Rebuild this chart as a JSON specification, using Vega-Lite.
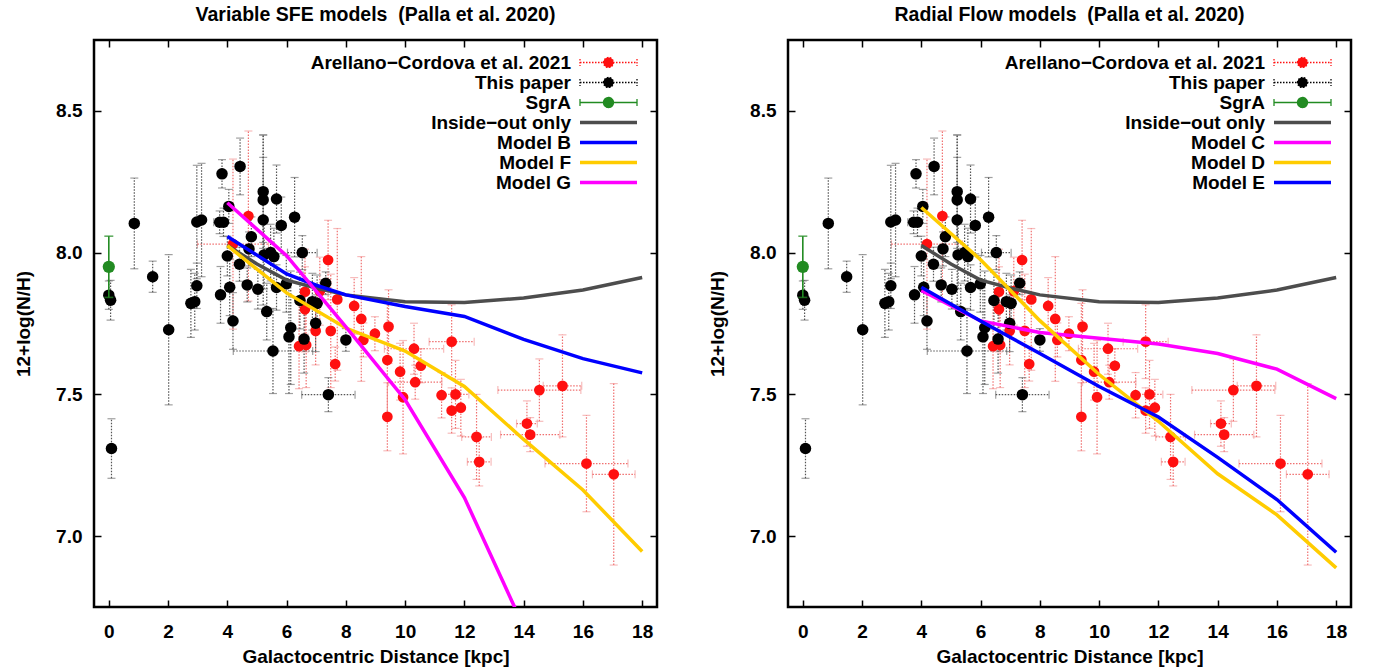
{
  "$schema": "https://vega.github.io/schema/vega-lite/v6.json",
  "padding": {"left": 13, "top": 3, "right": 5, "bottom": 0},
  "spacing": 48,
  "config": {
    "font": "Liberation Sans",
    "view": {"stroke": "#000", "strokeWidth": 2.5},
    "axis": {"grid": false, "domain": false, "labelFont": "Liberation Sans", "labelFontSize": 19, "labelFontWeight": "bold", "labelColor": "#000", "titleFont": "Liberation Sans", "titleFontSize": 19, "titleFontWeight": "bold", "titleColor": "#000", "tickColor": "#000", "tickWidth": 1.5, "tickSize": -7},
    "title": {"font": "Liberation Sans", "fontSize": 19.5, "fontWeight": "bold", "color": "#000", "offset": 14}
  },
  "resolve": {"scale": {"color": "independent", "size": "independent"}, "legend": {"color": "independent"}},
  "datasets": {
    "pts": [
      {"s":"A","x":4.71,"y":8.129,"ye":0.3,"xe":0},
      {"s":"A","x":4.19,"y":8.03,"ye":0.3,"xe":1.2},
      {"s":"A","x":7.4,"y":7.974,"ye":0.14,"xe":0},
      {"s":"A","x":6.62,"y":7.862,"ye":0.15,"xe":0},
      {"s":"A","x":7.12,"y":7.864,"ye":0.12,"xe":0},
      {"s":"A","x":7.71,"y":7.835,"ye":0.25,"xe":0},
      {"s":"A","x":6.62,"y":7.8,"ye":0.15,"xe":0},
      {"s":"A","x":8.28,"y":7.812,"ye":0.1,"xe":0},
      {"s":"A","x":8.52,"y":7.766,"ye":0.22,"xe":0},
      {"s":"A","x":9.44,"y":7.739,"ye":0.13,"xe":0},
      {"s":"A","x":8.98,"y":7.714,"ye":0.06,"xe":0},
      {"s":"A","x":8.59,"y":7.692,"ye":0.06,"xe":0},
      {"s":"A","x":7.49,"y":7.724,"ye":0.2,"xe":0},
      {"s":"A","x":6.98,"y":7.724,"ye":0.12,"xe":0},
      {"s":"A","x":7.64,"y":7.607,"ye":0.06,"xe":0},
      {"s":"A","x":6.42,"y":7.67,"ye":0.15,"xe":0},
      {"s":"A","x":6.66,"y":7.674,"ye":0.15,"xe":0},
      {"s":"A","x":9.4,"y":7.621,"ye":0.2,"xe":0},
      {"s":"A","x":10.3,"y":7.661,"ye":0.09,"xe":1.0},
      {"s":"A","x":9.83,"y":7.58,"ye":0.1,"xe":0},
      {"s":"A","x":10.53,"y":7.601,"ye":0.06,"xe":0},
      {"s":"A","x":10.34,"y":7.543,"ye":0.06,"xe":0.9},
      {"s":"A","x":11.57,"y":7.686,"ye":0.13,"xe":0.76},
      {"s":"A","x":9.93,"y":7.49,"ye":0.2,"xe":0},
      {"s":"A","x":11.23,"y":7.497,"ye":0.08,"xe":0},
      {"s":"A","x":11.7,"y":7.5,"ye":0.12,"xe":0.45},
      {"s":"A","x":11.57,"y":7.443,"ye":0.08,"xe":0},
      {"s":"A","x":11.88,"y":7.453,"ye":0.1,"xe":0},
      {"s":"A","x":9.4,"y":7.421,"ye":0.12,"xe":0},
      {"s":"A","x":12.41,"y":7.35,"ye":0.15,"xe":0.5},
      {"s":"A","x":12.5,"y":7.262,"ye":0.085,"xe":0.4},
      {"s":"A","x":14.11,"y":7.397,"ye":0.08,"xe":0.35},
      {"s":"A","x":14.22,"y":7.358,"ye":0.06,"xe":1.0},
      {"s":"A","x":14.53,"y":7.515,"ye":0.11,"xe":1.4},
      {"s":"A","x":15.31,"y":7.53,"ye":0.18,"xe":0.65},
      {"s":"A","x":16.12,"y":7.256,"ye":0.17,"xe":1.4},
      {"s":"A","x":17.04,"y":7.218,"ye":0.32,"xe":0.72},
      {"s":"T","x":0.0,"y":7.85,"ye":0.05,"xe":0},
      {"s":"T","x":0.06,"y":7.832,"ye":0.07,"xe":0},
      {"s":"T","x":0.09,"y":7.309,"ye":0.105,"xe":0},
      {"s":"T","x":0.86,"y":8.103,"ye":0.16,"xe":0},
      {"s":"T","x":1.48,"y":7.915,"ye":0.055,"xe":0},
      {"s":"T","x":2.02,"y":7.728,"ye":0.265,"xe":0},
      {"s":"T","x":2.77,"y":7.821,"ye":0.12,"xe":0},
      {"s":"T","x":2.9,"y":7.827,"ye":0.1,"xe":0},
      {"s":"T","x":2.97,"y":7.883,"ye":0.08,"xe":0},
      {"s":"T","x":2.97,"y":8.108,"ye":0.2,"xe":0},
      {"s":"T","x":3.13,"y":8.115,"ye":0.2,"xe":0},
      {"s":"T","x":3.82,"y":8.278,"ye":0.05,"xe":0},
      {"s":"T","x":3.74,"y":8.107,"ye":0.04,"xe":0.2},
      {"s":"T","x":3.87,"y":8.107,"ye":0.05,"xe":0},
      {"s":"T","x":3.77,"y":7.851,"ye":0.1,"xe":0},
      {"s":"T","x":4.0,"y":7.988,"ye":0.07,"xe":0},
      {"s":"T","x":4.05,"y":8.163,"ye":0.06,"xe":0},
      {"s":"T","x":4.08,"y":7.878,"ye":0.1,"xe":0},
      {"s":"T","x":4.19,"y":7.759,"ye":0.1,"xe":0},
      {"s":"T","x":4.41,"y":7.959,"ye":0.06,"xe":0},
      {"s":"T","x":4.43,"y":8.304,"ye":0.1,"xe":0},
      {"s":"T","x":4.67,"y":7.886,"ye":0.06,"xe":0},
      {"s":"T","x":4.81,"y":8.056,"ye":0.07,"xe":0},
      {"s":"T","x":4.73,"y":8.013,"ye":0.06,"xe":0},
      {"s":"T","x":5.03,"y":7.871,"ye":0.07,"xe":0},
      {"s":"T","x":5.21,"y":8.215,"ye":0.2,"xe":0},
      {"s":"T","x":5.21,"y":8.186,"ye":0.15,"xe":0},
      {"s":"T","x":5.21,"y":8.115,"ye":0.3,"xe":0},
      {"s":"T","x":5.33,"y":7.792,"ye":0.1,"xe":0},
      {"s":"T","x":5.24,"y":7.992,"ye":0.12,"xe":0},
      {"s":"T","x":5.46,"y":8.0,"ye":0.1,"xe":0},
      {"s":"T","x":5.57,"y":7.986,"ye":0.1,"xe":0},
      {"s":"T","x":5.54,"y":7.653,"ye":0.15,"xe":1.34},
      {"s":"T","x":5.66,"y":8.189,"ye":0.12,"xe":0},
      {"s":"T","x":5.82,"y":8.096,"ye":0.1,"xe":0},
      {"s":"T","x":5.66,"y":7.877,"ye":0.08,"xe":0},
      {"s":"T","x":5.99,"y":7.89,"ye":0.1,"xe":0},
      {"s":"T","x":6.14,"y":7.735,"ye":0.2,"xe":0},
      {"s":"T","x":6.08,"y":7.703,"ye":0.2,"xe":0},
      {"s":"T","x":6.27,"y":8.125,"ye":0.14,"xe":0},
      {"s":"T","x":6.53,"y":8.0,"ye":0.06,"xe":0.5},
      {"s":"T","x":6.45,"y":7.831,"ye":0.1,"xe":0},
      {"s":"T","x":6.59,"y":7.695,"ye":0.12,"xe":0},
      {"s":"T","x":6.87,"y":7.827,"ye":0.1,"xe":0},
      {"s":"T","x":6.98,"y":7.751,"ye":0.1,"xe":0},
      {"s":"T","x":7.03,"y":7.821,"ye":0.1,"xe":0},
      {"s":"T","x":7.32,"y":7.892,"ye":0.04,"xe":0},
      {"s":"T","x":7.41,"y":7.499,"ye":0.06,"xe":0.9},
      {"s":"T","x":8.0,"y":7.692,"ye":0.04,"xe":0},
      {"s":"S","x":0.0,"y":7.95,"ye":0.108,"xe":0}
    ],
    "lines": [
      {"s":"IO","x":4,"y":8.025},{"s":"IO","x":5,"y":7.96},{"s":"IO","x":6,"y":7.903},{"s":"IO","x":7,"y":7.875},{"s":"IO","x":8,"y":7.851},{"s":"IO","x":10,"y":7.827},{"s":"IO","x":12,"y":7.824},{"s":"IO","x":14,"y":7.84},{"s":"IO","x":16,"y":7.868},{"s":"IO","x":18,"y":7.912},
      {"s":"B","x":4,"y":8.057},{"s":"B","x":6,"y":7.925},{"s":"B","x":7,"y":7.885},{"s":"B","x":8,"y":7.851},{"s":"B","x":10,"y":7.81},{"s":"B","x":12,"y":7.775},{"s":"B","x":14,"y":7.694},{"s":"B","x":16,"y":7.626},{"s":"B","x":18,"y":7.576},
      {"s":"F","x":4,"y":8.025},{"s":"F","x":6,"y":7.858},{"s":"F","x":8,"y":7.734},{"s":"F","x":10,"y":7.653},{"s":"F","x":12,"y":7.528},{"s":"F","x":14,"y":7.341},{"s":"F","x":16,"y":7.163},{"s":"F","x":18,"y":6.946},
      {"s":"G","x":4,"y":8.176},{"s":"G","x":6,"y":7.989},{"s":"G","x":8,"y":7.738},{"s":"G","x":10,"y":7.481},{"s":"G","x":12,"y":7.136},{"s":"G","x":14,"y":6.68},
      {"s":"C","x":4,"y":7.867},{"s":"C","x":6,"y":7.759},{"s":"C","x":8,"y":7.718},{"s":"C","x":10,"y":7.698},{"s":"C","x":12,"y":7.678},{"s":"C","x":14,"y":7.644},{"s":"C","x":16,"y":7.589},{"s":"C","x":18,"y":7.485},
      {"s":"D","x":4,"y":8.159},{"s":"D","x":6,"y":7.975},{"s":"D","x":8,"y":7.76},{"s":"D","x":10,"y":7.57},{"s":"D","x":12,"y":7.405},{"s":"D","x":14,"y":7.22},{"s":"D","x":16,"y":7.075},{"s":"D","x":18,"y":6.888},
      {"s":"E","x":4,"y":7.878},{"s":"E","x":6,"y":7.759},{"s":"E","x":8,"y":7.644},{"s":"E","x":10,"y":7.528},{"s":"E","x":12,"y":7.42},{"s":"E","x":14,"y":7.278},{"s":"E","x":16,"y":7.129},{"s":"E","x":18,"y":6.943}
    ]
  },
  "hconcat": [
    {
      "width": 563, "height": 567,
      "title": {"text": "Variable SFE models \u00a0(Palla et al. 2020)"},
      "resolve": {"axis": {"x": "independent", "y": "independent"}},
      "layer": [
        {"data": {"name": "pts"}, "transform": [{"filter": "datum.s=='A'"}],
         "mark": {"type": "errorbar", "thickness": 1.2, "ticks": {"size": 8, "color": "#f4a0a0"}, "rule": {"strokeDash": [1.5, 1.5], "color": "#f07070"}},
         "encoding": {"x": {"field": "x", "type": "quantitative", "scale": {"domain": [-0.5, 18.5], "nice": false, "zero": false}, "axis": null},
                      "y": {"field": "y", "type": "quantitative", "scale": {"domain": [6.75, 8.75], "nice": false, "zero": false}, "axis": null},
                      "yError": {"field": "ye"}}},
        {"data": {"name": "pts"}, "transform": [{"filter": "datum.s=='A' && datum.xe>0"}],
         "mark": {"type": "errorbar", "thickness": 1.2, "ticks": {"size": 8, "color": "#f4a0a0"}, "rule": {"strokeDash": [1.5, 1.5], "color": "#f07070"}},
         "encoding": {"x": {"field": "x", "type": "quantitative", "scale": {"domain": [-0.5, 18.5], "nice": false, "zero": false}, "axis": null},
                      "xError": {"field": "xe"},
                      "y": {"field": "y", "type": "quantitative", "scale": {"domain": [6.75, 8.75], "nice": false, "zero": false}, "axis": null}}},
        {"data": {"name": "pts"}, "transform": [{"filter": "datum.s=='T'"}],
         "mark": {"type": "errorbar", "thickness": 1.2, "ticks": {"size": 8, "color": "#777777"}, "rule": {"strokeDash": [1.5, 1.5], "color": "#555555"}},
         "encoding": {"x": {"field": "x", "type": "quantitative", "scale": {"domain": [-0.5, 18.5], "nice": false, "zero": false}, "axis": null},
                      "y": {"field": "y", "type": "quantitative", "scale": {"domain": [6.75, 8.75], "nice": false, "zero": false}, "axis": null},
                      "yError": {"field": "ye"}}},
        {"data": {"name": "pts"}, "transform": [{"filter": "datum.s=='T' && datum.xe>0"}],
         "mark": {"type": "errorbar", "thickness": 1.2, "ticks": {"size": 8, "color": "#777777"}, "rule": {"strokeDash": [1.5, 1.5], "color": "#555555"}},
         "encoding": {"x": {"field": "x", "type": "quantitative", "scale": {"domain": [-0.5, 18.5], "nice": false, "zero": false}, "axis": null},
                      "xError": {"field": "xe"},
                      "y": {"field": "y", "type": "quantitative", "scale": {"domain": [6.75, 8.75], "nice": false, "zero": false}, "axis": null}}},
        {"data": {"name": "pts"},
         "mark": {"type": "circle", "opacity": 1},
         "encoding": {"x": {"field": "x", "type": "quantitative", "scale": {"domain": [-0.5, 18.5], "nice": false, "zero": false},
                            "axis": {"values": [0, 2, 4, 6, 8, 10, 12, 14, 16, 18], "labelPadding": 22, "title": "Galactocentric Distance [kpc]", "titlePadding": 6}},
                      "y": {"field": "y", "type": "quantitative", "scale": {"domain": [6.75, 8.75], "nice": false, "zero": false},
                            "axis": {"values": [7, 7.5, 8, 8.5], "labelPadding": 19, "title": "12+log(N/H)", "titlePadding": 22}},
                      "color": {"field": "s", "type": "nominal",
                                "scale": {"domain": ["A", "T", "S", "IO", "B", "F", "G"], "range": ["#ff1010", "#000000", "#228b22", "#4d4d4d", "#0000ff", "#ffcc00", "#ff00ff"]},
                                "legend": {"title": null, "orient": "none", "legendX": 505, "legendY": 13, "padding": 0, "rowPadding": -0.4,
                                           "labelExpr": "{'A':'Arellano\u2212Cordova et al. 2021','T':'This paper','S':'SgrA','IO':'Inside\u2212out only','B':'Model B','F':'Model F','G':'Model G'}[datum.value]",
                                           "labelAlign": "right", "labelOffset": -47, "labelFontSize": 19, "labelFontWeight": "bold", "labelColor": "#000", "labelLimit": 500, "symbolSize": 100,
                                           "symbolType": {"expr": "datum.index < 3 ? 'M-5.7,0H5.7M-5.7,-0.7V0.7M5.7,-0.7V0.7M-1,0A1,1,0,1,1,1,0A1,1,0,1,1,-1,0Z' : 'M-5.7,0H5.7'"},
                                           "symbolDash": {"expr": "datum.index < 2 ? [1.5,1.5] : [1,0]"},
                                           "symbolStrokeWidth": {"expr": "datum.index < 3 ? 1.3 : 3.5"},
                                           "symbolStrokeColor": {"expr": "['#f07070','#555555','#228b22','#4d4d4d','#0000ff','#ffcc00','#ff00ff'][datum.index]"},
                                           "symbolOpacity": 1}},
                      "size": {"field": "s", "type": "nominal", "scale": {"domain": ["A", "T", "S"], "range": [115, 150, 55]}, "legend": null}}},
        {"data": {"name": "pts"}, "transform": [{"filter": "datum.s=='S'"}],
         "mark": {"type": "errorbar", "thickness": 1.6, "color": "#228b22", "ticks": {"size": 9, "color": "#228b22"}, "rule": {"color": "#228b22"}},
         "encoding": {"x": {"field": "x", "type": "quantitative", "scale": {"domain": [-0.5, 18.5], "nice": false, "zero": false}, "axis": null},
                      "y": {"field": "y", "type": "quantitative", "scale": {"domain": [6.75, 8.75], "nice": false, "zero": false}, "axis": null},
                      "yError": {"field": "ye"}}},
        {"data": {"name": "lines"}, "transform": [{"filter": "indexof(['IO','B','F','G'], datum.s) >= 0"}],
         "mark": {"type": "line", "strokeWidth": 3.5, "clip": true},
         "encoding": {"x": {"field": "x", "type": "quantitative", "scale": {"domain": [-0.5, 18.5], "nice": false, "zero": false},
                            "axis": {"orient": "top", "values": [0, 2, 4, 6, 8, 10, 12, 14, 16, 18], "labels": false, "title": null}},
                      "y": {"field": "y", "type": "quantitative", "scale": {"domain": [6.75, 8.75], "nice": false, "zero": false},
                            "axis": {"orient": "right", "values": [7, 7.5, 8, 8.5], "labels": false, "title": null}},
                      "color": {"field": "s", "type": "nominal",
                                "scale": {"domain": ["A", "T", "S", "IO", "B", "F", "G"], "range": ["#ff1010", "#000000", "#228b22", "#4d4d4d", "#0000ff", "#ffcc00", "#ff00ff"]}}}}
      ]
    },
    {
      "width": 563, "height": 567,
      "title": {"text": "Radial Flow models \u00a0(Palla et al. 2020)"},
      "resolve": {"axis": {"x": "independent", "y": "independent"}},
      "layer": [
        {"data": {"name": "pts"}, "transform": [{"filter": "datum.s=='A'"}],
         "mark": {"type": "errorbar", "thickness": 1.2, "ticks": {"size": 8, "color": "#f4a0a0"}, "rule": {"strokeDash": [1.5, 1.5], "color": "#f07070"}},
         "encoding": {"x": {"field": "x", "type": "quantitative", "scale": {"domain": [-0.5, 18.5], "nice": false, "zero": false}, "axis": null},
                      "y": {"field": "y", "type": "quantitative", "scale": {"domain": [6.75, 8.75], "nice": false, "zero": false}, "axis": null},
                      "yError": {"field": "ye"}}},
        {"data": {"name": "pts"}, "transform": [{"filter": "datum.s=='A' && datum.xe>0"}],
         "mark": {"type": "errorbar", "thickness": 1.2, "ticks": {"size": 8, "color": "#f4a0a0"}, "rule": {"strokeDash": [1.5, 1.5], "color": "#f07070"}},
         "encoding": {"x": {"field": "x", "type": "quantitative", "scale": {"domain": [-0.5, 18.5], "nice": false, "zero": false}, "axis": null},
                      "xError": {"field": "xe"},
                      "y": {"field": "y", "type": "quantitative", "scale": {"domain": [6.75, 8.75], "nice": false, "zero": false}, "axis": null}}},
        {"data": {"name": "pts"}, "transform": [{"filter": "datum.s=='T'"}],
         "mark": {"type": "errorbar", "thickness": 1.2, "ticks": {"size": 8, "color": "#777777"}, "rule": {"strokeDash": [1.5, 1.5], "color": "#555555"}},
         "encoding": {"x": {"field": "x", "type": "quantitative", "scale": {"domain": [-0.5, 18.5], "nice": false, "zero": false}, "axis": null},
                      "y": {"field": "y", "type": "quantitative", "scale": {"domain": [6.75, 8.75], "nice": false, "zero": false}, "axis": null},
                      "yError": {"field": "ye"}}},
        {"data": {"name": "pts"}, "transform": [{"filter": "datum.s=='T' && datum.xe>0"}],
         "mark": {"type": "errorbar", "thickness": 1.2, "ticks": {"size": 8, "color": "#777777"}, "rule": {"strokeDash": [1.5, 1.5], "color": "#555555"}},
         "encoding": {"x": {"field": "x", "type": "quantitative", "scale": {"domain": [-0.5, 18.5], "nice": false, "zero": false}, "axis": null},
                      "xError": {"field": "xe"},
                      "y": {"field": "y", "type": "quantitative", "scale": {"domain": [6.75, 8.75], "nice": false, "zero": false}, "axis": null}}},
        {"data": {"name": "pts"},
         "mark": {"type": "circle", "opacity": 1},
         "encoding": {"x": {"field": "x", "type": "quantitative", "scale": {"domain": [-0.5, 18.5], "nice": false, "zero": false},
                            "axis": {"values": [0, 2, 4, 6, 8, 10, 12, 14, 16, 18], "labelPadding": 22, "title": "Galactocentric Distance [kpc]", "titlePadding": 6}},
                      "y": {"field": "y", "type": "quantitative", "scale": {"domain": [6.75, 8.75], "nice": false, "zero": false},
                            "axis": {"values": [7, 7.5, 8, 8.5], "labelPadding": 19, "title": "12+log(N/H)", "titlePadding": 22}},
                      "color": {"field": "s", "type": "nominal",
                                "scale": {"domain": ["A", "T", "S", "IO", "C", "D", "E"], "range": ["#ff1010", "#000000", "#228b22", "#4d4d4d", "#ff00ff", "#ffcc00", "#0000ff"]},
                                "legend": {"title": null, "orient": "none", "legendX": 505, "legendY": 13, "padding": 0, "rowPadding": -0.4,
                                           "labelExpr": "{'A':'Arellano\u2212Cordova et al. 2021','T':'This paper','S':'SgrA','IO':'Inside\u2212out only','C':'Model C','D':'Model D','E':'Model E'}[datum.value]",
                                           "labelAlign": "right", "labelOffset": -47, "labelFontSize": 19, "labelFontWeight": "bold", "labelColor": "#000", "labelLimit": 500, "symbolSize": 100,
                                           "symbolType": {"expr": "datum.index < 3 ? 'M-5.7,0H5.7M-5.7,-0.7V0.7M5.7,-0.7V0.7M-1,0A1,1,0,1,1,1,0A1,1,0,1,1,-1,0Z' : 'M-5.7,0H5.7'"},
                                           "symbolDash": {"expr": "datum.index < 2 ? [1.5,1.5] : [1,0]"},
                                           "symbolStrokeWidth": {"expr": "datum.index < 3 ? 1.3 : 3.5"},
                                           "symbolStrokeColor": {"expr": "['#f07070','#555555','#228b22','#4d4d4d','#ff00ff','#ffcc00','#0000ff'][datum.index]"},
                                           "symbolOpacity": 1}},
                      "size": {"field": "s", "type": "nominal", "scale": {"domain": ["A", "T", "S"], "range": [115, 150, 55]}, "legend": null}}},
        {"data": {"name": "pts"}, "transform": [{"filter": "datum.s=='S'"}],
         "mark": {"type": "errorbar", "thickness": 1.6, "color": "#228b22", "ticks": {"size": 9, "color": "#228b22"}, "rule": {"color": "#228b22"}},
         "encoding": {"x": {"field": "x", "type": "quantitative", "scale": {"domain": [-0.5, 18.5], "nice": false, "zero": false}, "axis": null},
                      "y": {"field": "y", "type": "quantitative", "scale": {"domain": [6.75, 8.75], "nice": false, "zero": false}, "axis": null},
                      "yError": {"field": "ye"}}},
        {"data": {"name": "lines"}, "transform": [{"filter": "indexof(['IO','C','D','E'], datum.s) >= 0"}],
         "mark": {"type": "line", "strokeWidth": 3.5, "clip": true},
         "encoding": {"x": {"field": "x", "type": "quantitative", "scale": {"domain": [-0.5, 18.5], "nice": false, "zero": false},
                            "axis": {"orient": "top", "values": [0, 2, 4, 6, 8, 10, 12, 14, 16, 18], "labels": false, "title": null}},
                      "y": {"field": "y", "type": "quantitative", "scale": {"domain": [6.75, 8.75], "nice": false, "zero": false},
                            "axis": {"orient": "right", "values": [7, 7.5, 8, 8.5], "labels": false, "title": null}},
                      "color": {"field": "s", "type": "nominal",
                                "scale": {"domain": ["A", "T", "S", "IO", "C", "D", "E"], "range": ["#ff1010", "#000000", "#228b22", "#4d4d4d", "#ff00ff", "#ffcc00", "#0000ff"]}}}}
      ]
    }
  ]
}
